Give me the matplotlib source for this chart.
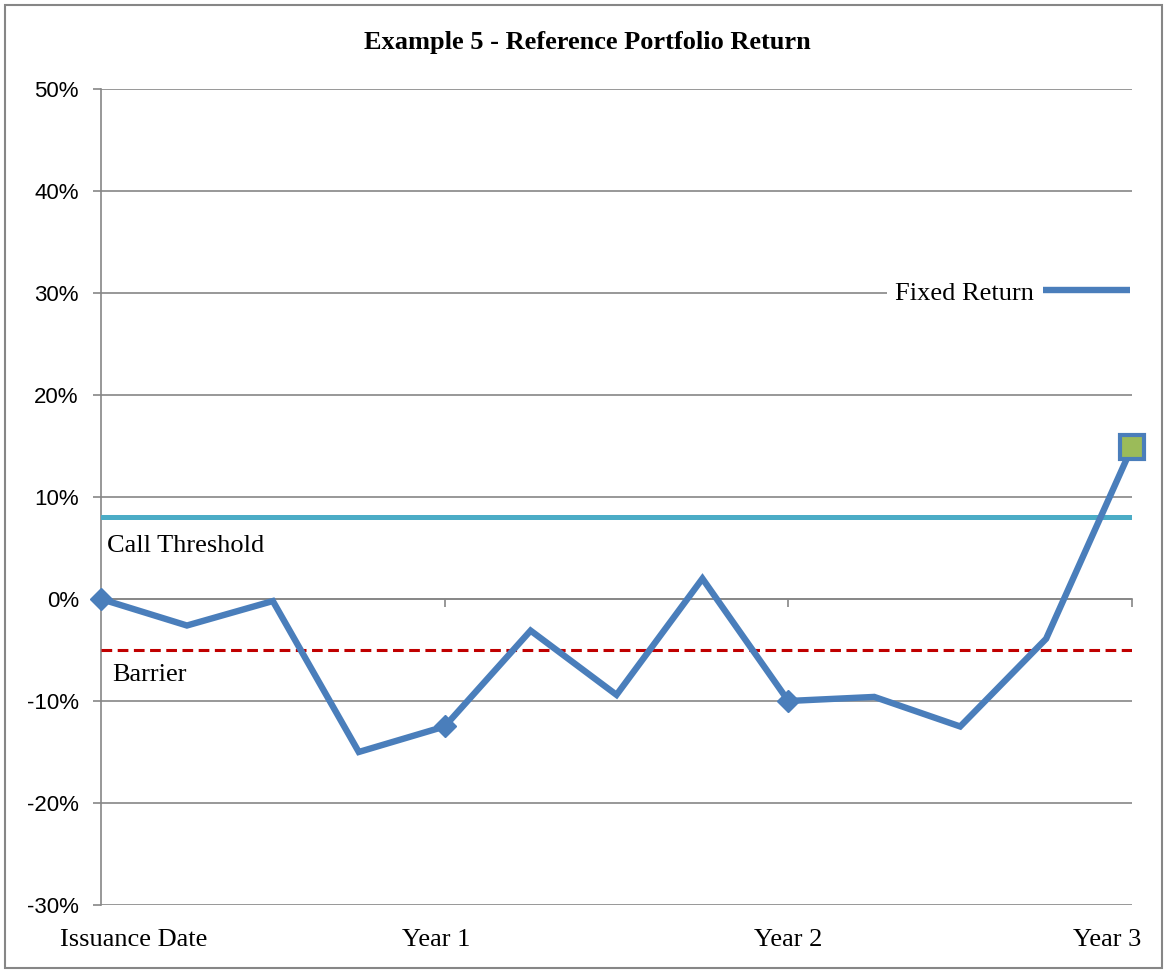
import matplotlib
matplotlib.use("Agg")
import matplotlib.pyplot as plt
import matplotlib.transforms as mtransforms
from matplotlib.lines import Line2D
from matplotlib.patches import Rectangle

# datos
periodos = list(range(13))  # trimestres desde la emision
retorno = [0.0, -2.6, -0.2, -15.0, -12.5, -3.1, -9.4, 2.0, -10.0, -9.6, -12.5, -3.9, 14.9]
umbral_call = 8.0
barrera = -5.0
pos_etiquetas = [0, 4, 8, 12]
etiquetas = ["Issuance Date", "Year 1", "Year 2", "Year 3"]
yticks = [-30, -20, -10, 0, 10, 20, 30, 40, 50]

azul = "#4a7ebb"
gris = "#868686"
serif = "Liberation Serif"

fig = plt.figure(figsize=(11.65, 9.71), dpi=100)
ax = fig.add_axes([0.0867, 0.068, 0.885, 0.8403])

# lineas de referencia
ax.axhline(umbral_call, color="#4bacc6", lw=3.6, solid_capstyle="round", zorder=3)
ax.axhline(barrera, color="#c00000", lw=2.2, ls=(0, (3.5, 1.8)), zorder=3)
ax.text(0.07, umbral_call - 2.8, "Call Threshold", fontsize=19, family=serif, va="center")
ax.text(0.13, barrera - 2.5, "Barrier", fontsize=19, family=serif, va="center")

# serie principal
ax.plot(periodos, retorno, color=azul, lw=4.6, solid_joinstyle="miter", zorder=4, clip_on=False)
ax.plot([periodos[i] for i in (0, 4, 8)], [retorno[i] for i in (0, 4, 8)],
        ls="none", marker="D", ms=11, color=azul, zorder=5, clip_on=False)
ax.plot(periodos[-1], retorno[-1], ls="none", marker="s", ms=17,
        mfc="#9bbb59", mec=azul, mew=3, zorder=6, clip_on=False)

ax.set_xlim(0, 12)
ax.set_ylim(-30, 50)
ax.set_yticks(yticks)
ax.set_yticklabels([f"{v}%" for v in yticks], family="Liberation Sans", fontsize=16)
ax.yaxis.grid(True, color=gris, lw=1.2)
ax.set_axisbelow(True)
ax.tick_params(axis="y", length=6, width=1.2, color=gris, pad=10)

# eje x cruzando en 0
for s in ["top", "right"]:
    ax.spines[s].set_visible(False)
ax.spines["left"].set_color(gris)
ax.spines["left"].set_linewidth(1.2)
ax.spines["bottom"].set_position(("data", 0))
ax.spines["bottom"].set_color(gris)
ax.spines["bottom"].set_linewidth(1.2)
ax.set_xticks(pos_etiquetas)
ax.tick_params(axis="x", direction="out", length=6, width=1.2, color=gris, labelbottom=False)

# etiquetas de categorias abajo
ax2 = ax.twiny()
ax2.set_xlim(ax.get_xlim())
ax2.xaxis.set_ticks_position("bottom")
ax2.xaxis.set_label_position("bottom")
ax2.set_xticks(pos_etiquetas)
ax2.set_xticklabels(etiquetas, family=serif, fontsize=19)
ax2.tick_params(axis="x", length=0, pad=17)
for s in ax2.spines.values():
    s.set_visible(False)
desplaz = [33, -8, 0, -25]
for lab, dx in zip(ax2.get_xticklabels(), desplaz):
    lab.set_transform(lab.get_transform() + mtransforms.ScaledTranslation(dx / 100, 0, fig.dpi_scale_trans))

# leyenda
h = Line2D([], [], color=azul, lw=4.6, solid_capstyle="butt")
leg = fig.legend([h], ["Fixed Return"], loc="center right", bbox_to_anchor=(0.977, 0.6983),
                 prop={"family": serif, "size": 19}, markerfirst=False, frameon=True,
                 handlelength=3.3, handletextpad=0.35, borderpad=0.3, borderaxespad=0)
leg.get_frame().set_edgecolor("none")
leg.get_frame().set_facecolor("white")
leg.get_frame().set_alpha(1)

fig.suptitle("Example 5 - Reference Portfolio Return", x=0.504, y=0.956,
             fontsize=19, fontweight="bold", family=serif, va="center")

fig.add_artist(Rectangle((0.004, 0.003), 0.993, 0.992, transform=fig.transFigure,
                         fill=False, edgecolor=gris, lw=1.5))

fig.savefig("out.png", dpi=100)
